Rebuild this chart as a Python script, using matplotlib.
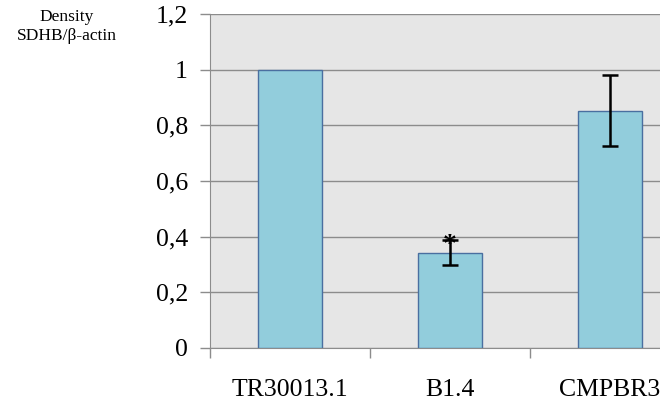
import matplotlib
matplotlib.use("Agg")
import matplotlib.pyplot as plt
import numpy as np

# data
categories = ["TR30013.1", "B1.4", "CMPBR3"]
density = [1.0, 0.342, 0.853]
errors = [0.0, 0.045, 0.128]
y_ticks = [0, 0.2, 0.4, 0.6, 0.8, 1.0, 1.2]
y_labels = ["0", "0,2", "0,4", "0,6", "0,8", "1", "1,2"]

plt.rcParams["font.family"] = ["Liberation Serif", "DejaVu Serif"]

fig = plt.figure(figsize=(6.6, 3.96), dpi=100)
ax = fig.add_axes([210 / 660, 48 / 396, 480 / 660, 334 / 396])
ax.set_facecolor("#e6e6e6")

x = np.arange(len(categories))
ax.bar(x, density, width=0.4, color="#92cddc", edgecolor="#4a6fa0", linewidth=1.0, zorder=3)

# error bars only where there is a spread
for xi, v, e in zip(x, density, errors):
    if e > 0:
        ax.errorbar(xi, v, yerr=e, fmt="none", ecolor="black", elinewidth=1.8,
                    capsize=6, capthick=1.8, zorder=4)
ax.text(x[1], density[1] + errors[1] - 0.02, "*", ha="center", va="center",
        fontsize=20, fontweight="bold", color="black", zorder=5)

ax.set_xlim(-0.5, 2.5)
ax.set_ylim(0, 1.2)
ax.set_yticks(y_ticks)
ax.set_yticklabels(y_labels, fontsize=18.5)
ax.yaxis.grid(True, color="#8c8c8c", linewidth=1.0, zorder=1)
ax.set_axisbelow(True)

ax.set_xticks(x)
ax.set_xticklabels(categories, fontsize=18.5)
ax.set_xticks([-0.5, 0.5, 1.5], minor=True)
ax.tick_params(axis="x", which="major", length=0, pad=22)
ax.tick_params(axis="x", which="minor", length=7, color="#8c8c8c", width=1)
ax.tick_params(axis="y", length=7, color="#8c8c8c", width=1, pad=9)

for side in ["top", "right"]:
    ax.spines[side].set_visible(False)
ax.spines["left"].set_color("#8c8c8c")
ax.spines["bottom"].set_color("#8c8c8c")

fig.text(67 / 660, 1 - 17 / 396, "Density", ha="center", va="center", fontsize=12.5)
fig.text(67 / 660, 1 - 36 / 396, "SDHB/\u03b2-actin", ha="center", va="center", fontsize=12.5)

fig.savefig("out.png", dpi=100)
